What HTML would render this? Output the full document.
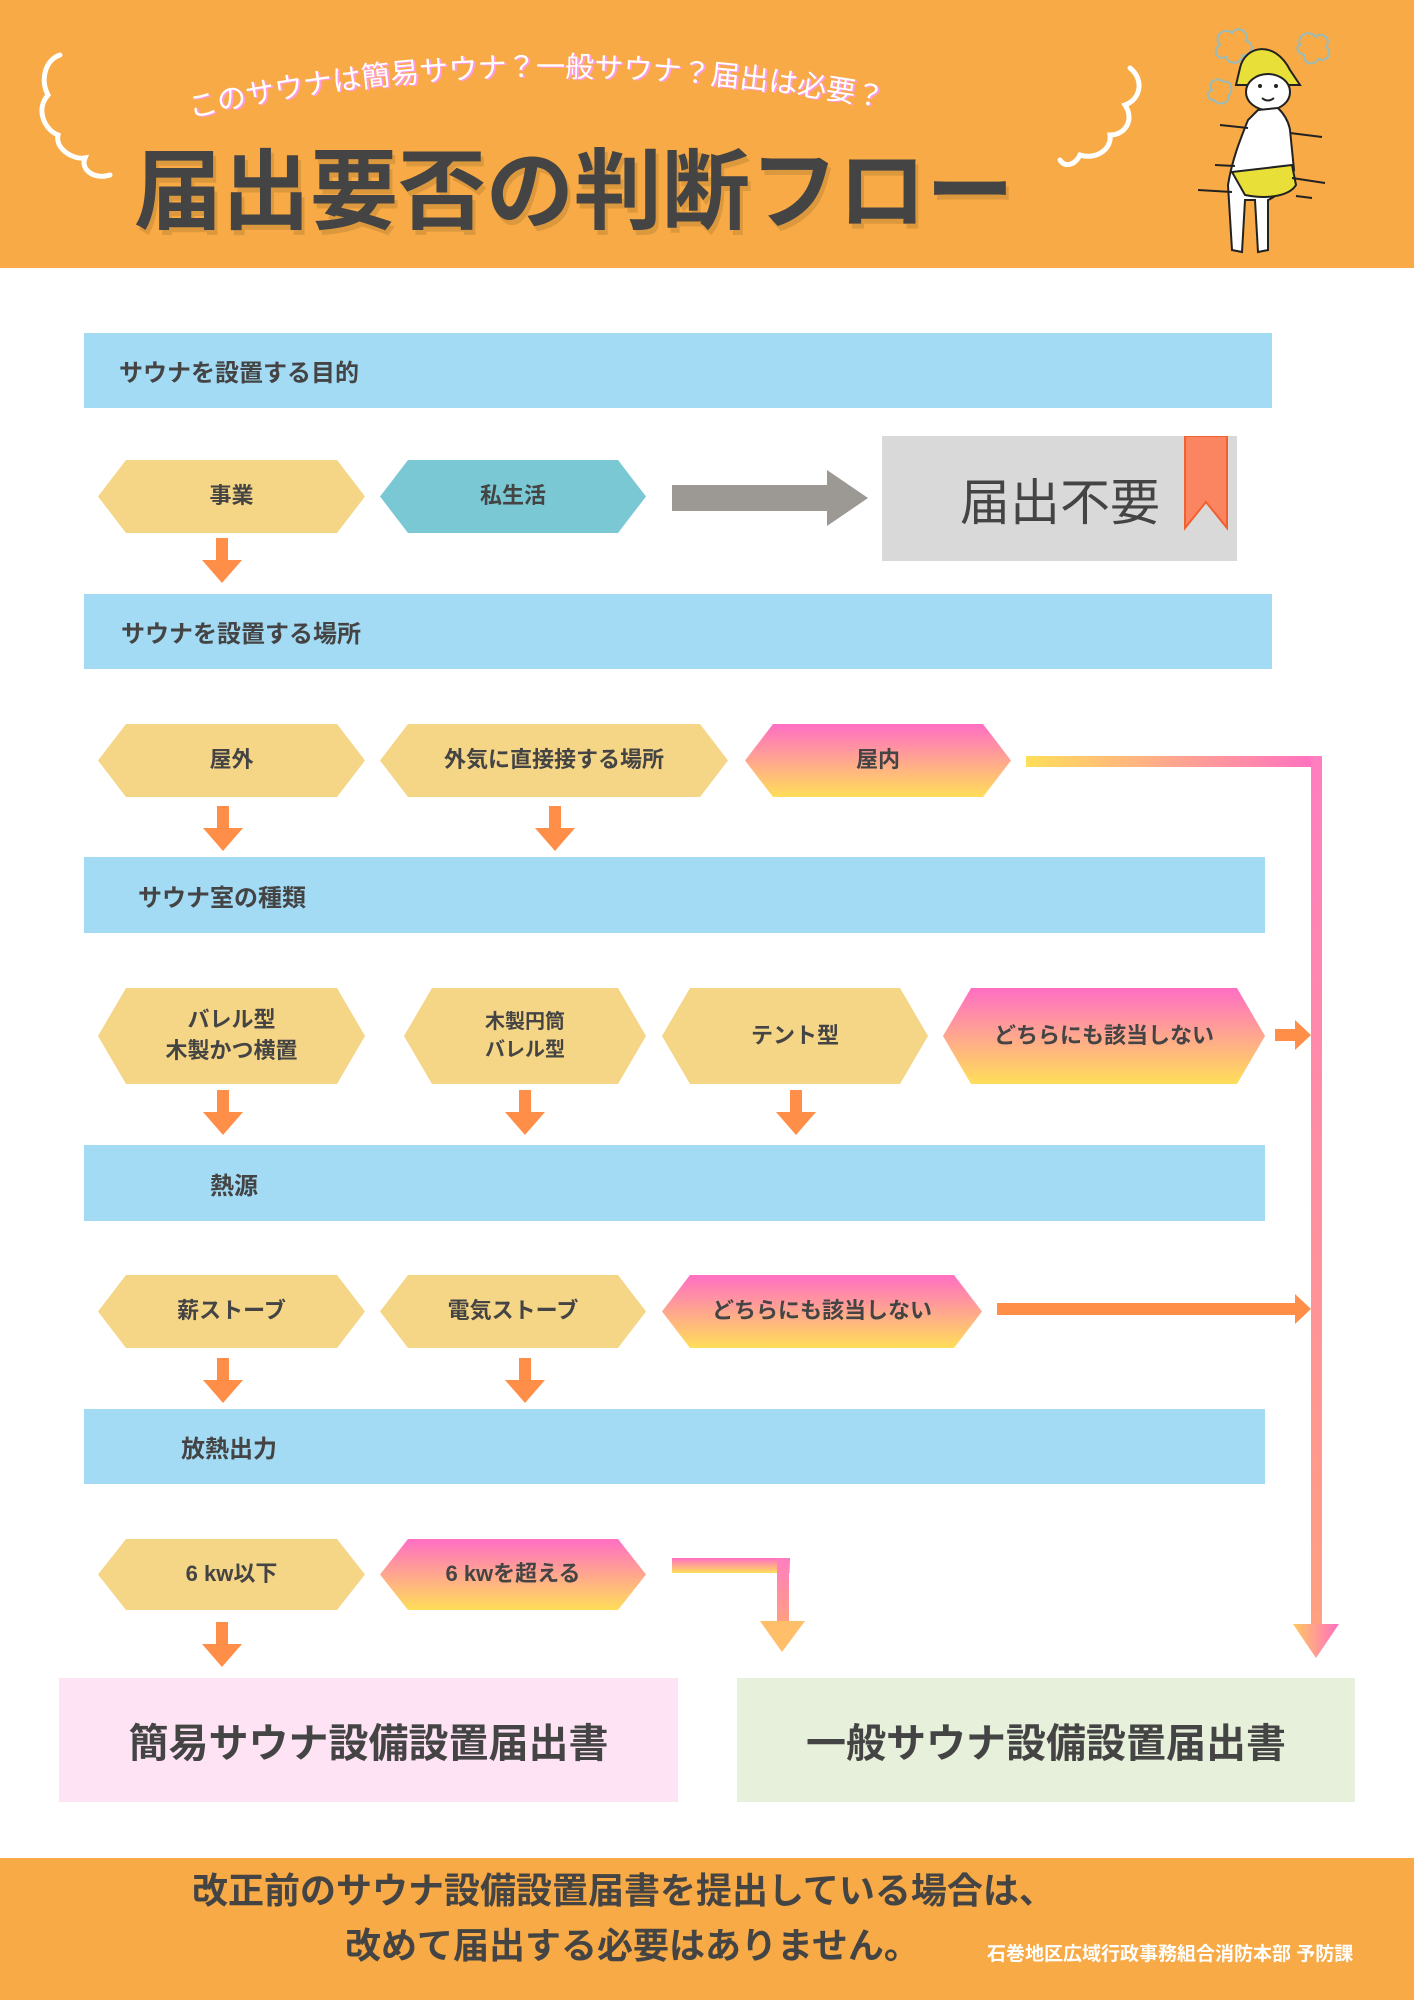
<!DOCTYPE html>
<html><head><meta charset="utf-8">
<style>
*{margin:0;padding:0;box-sizing:border-box}
body{width:1414px;height:2000px;position:relative;background:#fff;font-family:"Liberation Sans","Noto Sans CJK JP",sans-serif;color:#444;overflow:hidden}
.a{position:absolute}
.bar{position:absolute;background:#A3DBF5;font-weight:bold;font-size:24px;display:flex;align-items:center}
.hx{position:absolute;clip-path:polygon(28px 0,calc(100% - 28px) 0,100% 50%,calc(100% - 28px) 100%,28px 100%,0 50%);background:#F5D586;display:flex;align-items:center;justify-content:center;text-align:center;font-weight:bold;font-size:22px;line-height:1.4}
.g{background:linear-gradient(#FF6EC4,#FFDE59)}
.dn{position:absolute;width:40px;height:45px}
</style></head><body>
<div class="a" style="left:0;top:0;width:1414px;height:268px;background:#F7AA45"></div>
<svg class="a" style="left:0;top:0" width="1414" height="268">
<defs><path id="arc" d="M191,118 Q560,30 990,130"/></defs>
<text font-family="Liberation Sans, Noto Sans CJK JP, sans-serif" font-size="29" fill="#ff9be0" transform="translate(2,1)"><textPath href="#arc">このサウナは簡易サウナ？一般サウナ？届出は必要？</textPath></text>
<text font-family="Liberation Sans, Noto Sans CJK JP, sans-serif" font-size="29" fill="#fff"><textPath href="#arc">このサウナは簡易サウナ？一般サウナ？届出は必要？</textPath></text>
<path d="M60,55 C45,60 40,80 48,95 C35,110 45,130 58,135 C55,150 75,160 85,158 C80,170 95,180 110,175" fill="none" stroke="#fff" stroke-width="5" stroke-linecap="round"/>
<path d="M1130,68 C1145,80 1140,100 1125,105 C1135,120 1125,135 1110,135 C1112,150 1095,160 1080,155 C1075,165 1065,168 1060,160" fill="none" stroke="#fff" stroke-width="5" stroke-linecap="round"/>
<g fill="none" stroke="#9bb" stroke-width="2">
<path d="M1220,45 c-8,-10 5,-18 12,-12 c5,-8 18,-2 14,8 c10,2 6,16 -4,14 c0,10 -14,10 -16,2 c-10,4 -14,-8 -6,-12z"/>
<path d="M1300,45 c-4,-10 10,-16 16,-8 c6,-6 16,2 10,10 c8,6 0,16 -8,12 c-4,8 -16,4 -14,-4 c-8,-2 -8,-10 -4,-10z"/>
<path d="M1212,90 c-6,-8 6,-14 12,-8 c8,-2 10,10 4,14 c2,8 -10,10 -14,4 c-8,0 -8,-8 -2,-10z"/>
</g>
<path d="M1240,68 C1245,45 1275,40 1290,70 L1300,85 L1236,85 Z" fill="#E8E038" stroke="#222" stroke-width="2"/>
<ellipse cx="1268" cy="92" rx="22" ry="18" fill="#fff" stroke="#222" stroke-width="2"/>
<circle cx="1260" cy="86" r="2" fill="#222"/><circle cx="1276" cy="86" r="2" fill="#222"/>
<path d="M1262,98 q6,5 12,0" fill="none" stroke="#222" stroke-width="2"/>
<path d="M1258,110 L1248,120 C1240,140 1232,160 1228,185 L1232,250 L1242,252 L1245,200 L1255,200 L1258,252 L1268,250 L1268,200 C1280,195 1292,180 1294,170 L1290,130 C1288,118 1280,110 1278,108 Z" fill="#fff" stroke="#222" stroke-width="2"/>
<path d="M1232,172 L1292,165 L1296,185 C1290,195 1270,200 1245,195 Z" fill="#E8E038" stroke="#222" stroke-width="2"/>
<g stroke="#222" stroke-width="2"><line x1="1220" y1="125" x2="1248" y2="128"/><line x1="1290" y1="133" x2="1322" y2="137"/><line x1="1215" y1="165" x2="1235" y2="166"/><line x1="1292" y1="178" x2="1325" y2="183"/><line x1="1198" y1="190" x2="1232" y2="192"/><line x1="1296" y1="196" x2="1312" y2="198"/></g>
<text x="134" y="222" font-family="Liberation Sans, Noto Sans CJK JP, sans-serif" font-weight="bold" font-size="88" fill="#000" opacity="0.1" transform="translate(3,5)">届出要否の判断フロー</text>
<text x="134" y="222" font-family="Liberation Sans, Noto Sans CJK JP, sans-serif" font-weight="bold" font-size="88" fill="#444">届出要否の判断フロー</text>
</svg>

<div class="bar" style="left:84px;top:333px;width:1188px;height:75px;padding-left:35px">サウナを設置する目的</div>
<div class="hx" style="left:98px;top:460px;width:267px;height:73px">事業</div>
<div class="hx" style="left:380px;top:460px;width:266px;height:73px;background:#7AC8D4">私生活</div>
<svg class="a" style="left:672px;top:470px" width="200" height="56"><path d="M0,15 H155 V0 L196,28 L155,56 V41 H0Z" fill="#9C9893"/></svg>
<div class="a" style="left:882px;top:436px;width:355px;height:125px;background:#D9D9D9;font-size:50px;display:flex;align-items:center;padding-left:78px">届出不要</div>
<svg class="a" style="left:1183px;top:436px" width="46" height="96"><path d="M2,0 H44 V92 L23,66 L2,92Z" fill="#FA8560" stroke="#f06030" stroke-width="2"/></svg>

<div class="bar" style="left:84px;top:594px;width:1188px;height:75px;padding-left:37px">サウナを設置する場所</div>
<div class="hx" style="left:98px;top:724px;width:267px;height:73px">屋外</div>
<div class="hx" style="left:380px;top:724px;width:348px;height:73px">外気に直接接する場所</div>
<div class="hx g" style="left:745px;top:724px;width:266px;height:73px">屋内</div>
<div class="a" style="left:1026px;top:756px;width:296px;height:11px;background:linear-gradient(90deg,#FFDE59,#FF6EC4)"></div>
<div class="a" style="left:1311px;top:756px;width:11px;height:872px;background:linear-gradient(#FF7EC0,#FFA080)"></div>
<svg class="a" style="left:1293px;top:1624px" width="48" height="36"><path d="M0,0 H46 L23,34Z" fill="url(#gg)"/><defs><linearGradient id="gg" x1="0" x2="1"><stop offset="0" stop-color="#FFC860"/><stop offset="1" stop-color="#FF70C4"/></linearGradient></defs></svg>

<div class="bar" style="left:84px;top:857px;width:1181px;height:76px;padding-left:54px">サウナ室の種類</div>
<div class="hx" style="left:98px;top:988px;width:267px;height:96px">バレル型<br>木製かつ横置</div>
<div class="hx" style="left:404px;top:988px;width:242px;height:96px;font-size:20px">木製円筒<br>バレル型</div>
<div class="hx" style="left:662px;top:988px;width:266px;height:96px">テント型</div>
<div class="hx g" style="left:943px;top:988px;width:322px;height:96px">どちらにも該当しない</div>
<svg class="a" style="left:1275px;top:1020px" width="38" height="30"><path d="M0,9 H20 V0 L36,15 L20,30 V21 H0Z" fill="#FF8F48"/></svg>

<div class="bar" style="left:84px;top:1145px;width:1181px;height:76px;padding-left:126px">熱源</div>
<div class="hx" style="left:98px;top:1275px;width:267px;height:73px">薪ストーブ</div>
<div class="hx" style="left:380px;top:1275px;width:266px;height:73px">電気ストーブ</div>
<div class="hx g" style="left:662px;top:1275px;width:320px;height:73px">どちらにも該当しない</div>
<svg class="a" style="left:997px;top:1294px" width="316" height="30"><path d="M0,9 H298 V0 L314,15 L298,30 V21 H0Z" fill="#FF8F48"/></svg>

<div class="bar" style="left:84px;top:1409px;width:1181px;height:75px;padding-left:97px">放熱出力</div>
<div class="hx" style="left:98px;top:1539px;width:267px;height:71px">6 kw以下</div>
<div class="hx g" style="left:380px;top:1539px;width:266px;height:71px">6 kwを超える</div>
<div class="a" style="left:672px;top:1558px;width:118px;height:15px;background:linear-gradient(#FF6EC4,#FFDE59)"></div>
<div class="a" style="left:777px;top:1558px;width:12px;height:66px;background:linear-gradient(#FF7EC0,#FFA080)"></div>
<svg class="a" style="left:760px;top:1621px" width="46" height="32"><path d="M0,0 H45 L22,31Z" fill="#FFBE6A"/></svg>

<svg width="0" height="0" style="position:absolute"><defs><g id="da"><path d="M14,0 H26 V22 H40 L20,45 L0,22 H14Z" fill="#FF8F48"/></g></defs></svg>
<svg class="dn" style="left:202px;top:538px"><use href="#da"/></svg>
<svg class="dn" style="left:203px;top:806px"><use href="#da"/></svg>
<svg class="dn" style="left:535px;top:806px"><use href="#da"/></svg>
<svg class="dn" style="left:203px;top:1090px"><use href="#da"/></svg>
<svg class="dn" style="left:505px;top:1090px"><use href="#da"/></svg>
<svg class="dn" style="left:776px;top:1090px"><use href="#da"/></svg>
<svg class="dn" style="left:203px;top:1358px"><use href="#da"/></svg>
<svg class="dn" style="left:505px;top:1358px"><use href="#da"/></svg>
<svg class="dn" style="left:202px;top:1622px"><use href="#da"/></svg>

<div class="a" style="left:59px;top:1678px;width:619px;height:124px;background:#FDE3F3;font-size:40px;font-weight:bold;display:flex;align-items:center;justify-content:center">簡易サウナ設備設置届出書</div>
<div class="a" style="left:737px;top:1678px;width:618px;height:124px;background:#E6F0DA;font-size:40px;font-weight:bold;display:flex;align-items:center;justify-content:center">一般サウナ設備設置届出書</div>

<div class="a" style="left:0;top:1858px;width:1414px;height:142px;background:#F7AA45"></div>
<div class="a" style="left:192px;top:1862px;font-size:36px;font-weight:bold;white-space:nowrap">改正前のサウナ設備設置届書を提出している場合は、</div>
<div class="a" style="left:345px;top:1917px;font-size:36px;font-weight:bold;white-space:nowrap">改めて届出する必要はありません。</div>
<div class="a" style="left:987px;top:1939px;font-size:19px;font-weight:bold;color:#fff;white-space:nowrap">石巻地区広域行政事務組合消防本部 予防課</div>
</body></html>
